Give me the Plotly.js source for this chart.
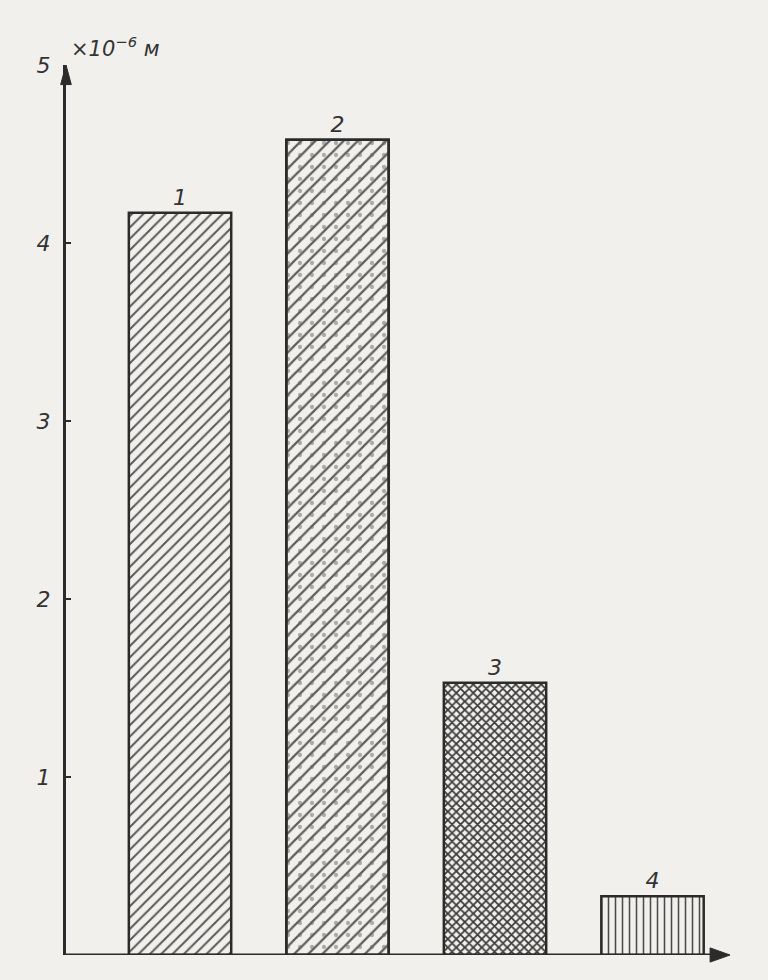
<!DOCTYPE html>
<html>
<head>
<meta charset="utf-8">
<script src="https://cdn.plot.ly/plotly-3.0.1.min.js"></script>
<style>html,body{margin:0;padding:0;background:#f1f0ed;}</style>
</head>
<body>
<div id="chart" style="width:768px;height:980px;"></div>
<script>
// Data
const positions = [1, 2, 3, 4];
const barLabels = ["1", "2", "3", "4"];
const values = [4.17, 4.58, 1.53, 0.33];
const yTickVals = [1, 2, 3, 4, 5];
const yTickText = ["1", "2", "3", "4", "5"];
const unitLabel = "×10<sup>−6</sup> м";

const ink = "#2b2b2b";
const paper = "#f1f0ed";
const labelFont = {family: "DejaVu Sans, Liberation Sans", size: 22, color: "#333", style: "italic"};

const shapes = ["/", "/", "x", "|"];
const sizes = [8, 10, 6, 7];
const solid = [0.25, 0.22, 0.5, 0.22];
const fg = ["#5a5a5a", "#5e5e5e", "#3a3a3a", "#4a4a4a"];

const main = {
  type: "bar",
  x: positions,
  y: values,
  width: 0.65,
  text: barLabels,
  textposition: "outside",
  textfont: labelFont,
  cliponaxis: false,
  marker: {
    color: paper,
    line: {color: ink, width: 2.5},
    pattern: {shape: shapes, size: sizes, solidity: solid, fgcolor: fg, bgcolor: paper, fillmode: "replace"}
  },
  hoverinfo: "none"
};

// dotted overlay for bar 2
const dots = {
  type: "bar",
  x: [positions[1]],
  y: [values[1]],
  width: 0.65,
  marker: {
    color: "rgba(0,0,0,0)",
    line: {color: ink, width: 2.5},
    pattern: {shape: ".", size: 12, solidity: 0.1, fgcolor: "#666", bgcolor: "rgba(0,0,0,0)", fillmode: "overlay"}
  },
  hoverinfo: "none"
};

const layout = {
  width: 768,
  height: 980,
  margin: {l: 66, r: 38, t: 65, b: 25},
  paper_bgcolor: paper,
  plot_bgcolor: paper,
  showlegend: false,
  barmode: "overlay",
  xaxis: {
    range: [0.276, 4.492],
    showticklabels: false,
    ticks: "",
    showgrid: false,
    zeroline: false,
    showline: false
  },
  yaxis: {
    range: [0, 5],
    tickvals: yTickVals,
    ticktext: yTickText,
    ticks: "inside",
    ticklen: 5,
    tickwidth: 2,
    tickcolor: ink,
    tickfont: labelFont,
    ticklabelstandoff: 8,
    showgrid: false,
    zeroline: false,
    showline: true,
    linecolor: ink,
    linewidth: 3
  },
  shapes: [
    {type: "line", xref: "paper", yref: "y", x0: 0, x1: 0.985, y0: 0, y1: 0, line: {color: ink, width: 3}},
    {type: "path", xref: "paper", yref: "paper", path: "M -0.008 0.978 L 0 1.0 L 0.008 0.978 Z", fillcolor: ink, line: {color: ink, width: 1}},
    {type: "path", xref: "paper", yref: "paper", path: "M 0.97 0.008 L 1.0 0 L 0.97 -0.008 Z", fillcolor: ink, line: {color: ink, width: 1}}
  ],
  annotations: [
    {xref: "paper", yref: "paper", x: 0.005, y: 1, yshift: 2, xanchor: "left", yanchor: "bottom", text: unitLabel, showarrow: false, font: {family: "DejaVu Sans, Liberation Sans", size: 21, color: "#333", style: "italic"}}
  ]
};

Plotly.newPlot("chart", [main, dots], layout, {displayModeBar: false, staticPlot: true});
</script>
</body>
</html>
